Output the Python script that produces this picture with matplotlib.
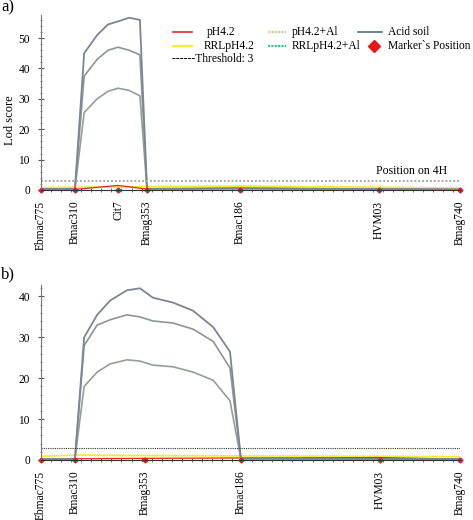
import matplotlib
matplotlib.use('Agg')
import matplotlib.pyplot as plt
from matplotlib.lines import Line2D
from matplotlib.ticker import MultipleLocator

plt.rcParams['font.family'] = ['Liberation Serif', 'DejaVu Serif']

# --- panel a) markers on 4H (position, cM) ---
markers_a = ['Ebmac775', 'Bmac310', 'Cit7', 'Bmag353', 'Bmac186', 'HVM03', 'Bmag740']
pos_a = [0, 8.1, 18.4, 25.3, 47.5, 80.7, 100]

# LOD profiles, panel a
xa = [0, 8.1, 10.3, 13.4, 16.0, 18.4, 21.0, 23.6, 25.3, 47.5, 80.7, 100]
acid_a = [0.3, 0.4, 45, 51, 54.5, 55.5, 56.7, 56, 0.4, 0.6, 0.3, 0.2]
al_a = [0.2, 0.3, 37.5, 43, 46, 47, 46, 44.5, 0.3, 0.5, 0.2, 0.1]
rrlal_a = [0.2, 0.3, 25.5, 30, 32.5, 33.5, 32.8, 31, 0.3, 0.4, 0.2, 0.1]
ph_a = [0.2, 0.2, 1.5, 0.3, 0.6, 0.3, 0.1]
rrlph_a = [0.8, 0.9, 1.0, 1.1, 1.3, 0.9, 0.6]

# --- panel b) ---
markers_b = ['Ebmac775', 'Bmac310', 'Bmag353', 'Bmac186', 'HVM03', 'Bmag740']
pos_b = [0, 8.1, 24.8, 47.7, 80.9, 100]

xb = [0, 8.1, 10.3, 13.4, 16.5, 20.5, 23.6, 26.7, 31.5, 36.3, 41.1, 45.1, 47.7, 80.9, 100]
acid_b = [0.2, 0.3, 30, 35.5, 39, 41.5, 42, 39.7, 38.5, 36.5, 32.5, 26.5, 0.4, 0.3, 0.2]
al_b = [0.2, 0.3, 28, 33, 34.3, 35.5, 35, 34, 33.5, 32, 29, 22.5, 0.3, 0.2, 0.1]
rrlal_b = [0.2, 0.3, 18, 21.5, 23.5, 24.5, 24.2, 23.2, 22.8, 21.5, 19.5, 14.5, 0.3, 0.2, 0.1]
ph_b = [0.2, 0.3, 0.4, 0.5, 0.6, 0.2]
rrlph_b = [0.9, 1.2, 1.1, 1.0, 0.9, 0.8]

threshold = 3

c_ph = '#e3232c'
c_rrlph = '#f4ec3c'
c_al = '#bcd99a'
c_rrlal = '#3cc48a'
c_acid = '#4f7583'
c_mark = '#e81818'

W, H = 473, 520
fig = plt.figure(figsize=(4.73, 5.2), dpi=100)
ax1 = fig.add_axes([41/W, 1-190/H, 419/W, 175/H])
ax2 = fig.add_axes([41/W, 1-460/H, 419/W, 175/H])


def draw(ax, x, acid, al, rrlal, pos, ph, rrlph, names, ymax, thr_color, thr_lw):
    ax.plot(pos, rrlph, color=c_rrlph, lw=1.3)
    ax.plot(pos, ph, color=c_ph, lw=0.9)
    ax.plot(x, rrlal, color='#93a096', lw=1.2)
    ax.plot(x, al, color='#8c9790', lw=1.2)
    ax.plot(x, acid, color='#7b8695', lw=1.3)
    ax.axhline(threshold, color=thr_color, ls=(0, (1, 1)), lw=thr_lw)
    ax.plot(pos, [0] * len(pos), ls='none', marker='D', ms=2.5, color=c_mark, clip_on=False)
    ax.set_xlim(0, 100)
    ax.set_ylim(0, ymax)
    ax.set_xticks(pos)
    ax.set_xticklabels(names, rotation=90, fontsize=8.3)
    ax.xaxis.set_minor_locator(MultipleLocator(2.4))
    ax.yaxis.set_major_locator(MultipleLocator(10))
    ax.yaxis.set_minor_locator(MultipleLocator(2))
    ax.tick_params(axis='x', which='both', length=3, pad=6, direction='inout', color='#555555')
    ax.tick_params(axis='y', which='major', length=4, pad=6, labelsize=8.3, direction='inout', color='#555555')
    ax.tick_params(axis='y', which='minor', length=2, direction='inout', color='#777777')
    for s in ['top', 'right']:
        ax.spines[s].set_visible(False)
    ax.spines['left'].set_color('#777777')
    ax.spines['bottom'].set_color('#333333')


draw(ax1, xa, acid_a, al_a, rrlal_a, pos_a, ph_a, rrlph_a, markers_a, 57.6, '#a8a8a8', 1.4)
draw(ax2, xb, acid_b, al_b, rrlal_b, pos_b, ph_b, rrlph_b, markers_b, 42.8, '#303030', 0.8)

ax1.text(97, 4.2, 'Position on 4H', fontsize=8.5, ha='right', va='bottom')

fig.text(0.002, 0.985, 'a)', fontsize=12, va='center')
fig.text(0.002, 1-274/H, 'b)', fontsize=12, va='center')
fig.text(10/W, 1-120/H, 'Lod score', fontsize=9, rotation=90, ha='center', va='center')

# legend laid out by hand (columns overlap slightly in the original)
legend_lines = [
    (173, 192, 32, dict(color=c_ph, lw=1.2), 'pH4.2', 207),
    (173, 192, 46, dict(color=c_rrlph, lw=1.6), 'RRLpH4.2', 204),
    (268, 286, 32, dict(color=c_al, lw=1.6, ls=(0, (1, 0.5))), 'pH4.2+Al', 292),
    (268, 286, 46, dict(color=c_rrlal, lw=1.6, ls=(0, (1, 0.5))), 'RRLpH4.2+Al', 292),
    (358, 382, 32, dict(color=c_acid, lw=1.2), 'Acid soil', 388),
]
for x0, x1, yy, style, lab, tx in legend_lines:
    fig.add_artist(Line2D([x0/W, x1/W], [1-yy/H, 1-yy/H], transform=fig.transFigure, **style))
    fig.text(tx/W, 1-yy/H, lab, fontsize=8.3, va='center')
fig.add_artist(Line2D([374/W], [1-46/H], transform=fig.transFigure, ls='none',
                      marker='D', ms=6, color=c_mark))
fig.text(388/W, 1-46/H, 'Marker`s Position', fontsize=8.3, va='center')
fig.text(172/W, 1-59/H, '------Threshold: 3', fontsize=8.3, va='center')

fig.savefig('out.png', dpi=100)
